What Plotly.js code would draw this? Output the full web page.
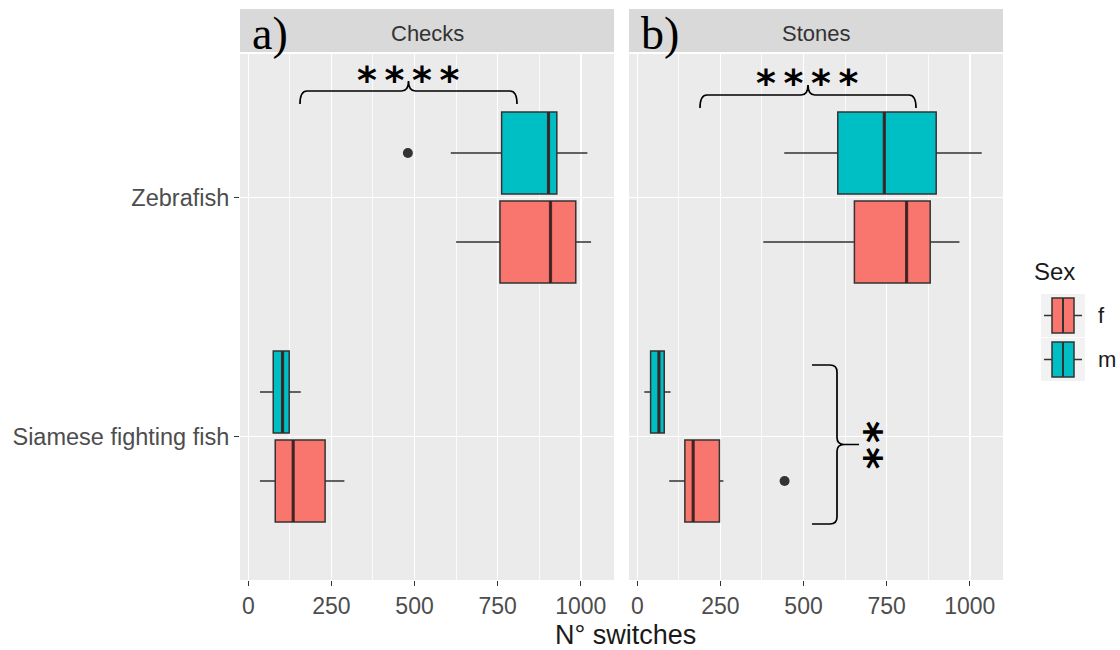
<!DOCTYPE html>
<html>
<head>
<meta charset="utf-8">
<script src="https://cdn.plot.ly/plotly-3.0.1.min.js"></script>
<style>html,body{margin:0;padding:0;background:#fff;}#chart{width:1120px;height:650px;}</style>
</head>
<body>
<div id="chart"></div>
<script>
// ---- data ----
const categories = ['Zebrafish', 'Siamese fighting fish'];
const panels = ['Checks', 'Stones'];
const panelTags = ['a)', 'b)'];
const sexes = ['f', 'm'];
const xTicks = [0, 250, 500, 750, 1000];

// Checks
const checksF_q1 = [757, 81];
const checksF_median = [909, 135];
const checksF_q3 = [985, 231];
const checksF_lower = [625, 35];
const checksF_upper = [1031, 289];
const checksF_outliers = [[], []];

const checksM_q1 = [762, 75];
const checksM_median = [903, 103];
const checksM_q3 = [928, 123];
const checksM_lower = [609, 35];
const checksM_upper = [1020, 158];
const checksM_outliers = [[480], []];

// Stones
const stonesF_q1 = [653, 143];
const stonesF_median = [810, 168];
const stonesF_q3 = [881, 247];
const stonesF_lower = [379, 96];
const stonesF_upper = [969, 259];
const stonesF_outliers = [[], [443]];

const stonesM_q1 = [603, 40];
const stonesM_median = [743, 65];
const stonesM_q3 = [899, 81];
const stonesM_lower = [442, 21];
const stonesM_upper = [1036, 100];
const stonesM_outliers = [[], []];

const significance = ['****', '****', '**'];

// ---- styling ----
const W = 1120, H = 650;
const colors = {f: '#F8766D', m: '#00BFC4'};
const px = v => v / W;
const py = v => 1 - v / H;

const series = [
  {panel: 0, sex: 'f', q1: checksF_q1, med: checksF_median, q3: checksF_q3, lo: checksF_lower, hi: checksF_upper, out: checksF_outliers},
  {panel: 0, sex: 'm', q1: checksM_q1, med: checksM_median, q3: checksM_q3, lo: checksM_lower, hi: checksM_upper, out: checksM_outliers},
  {panel: 1, sex: 'f', q1: stonesF_q1, med: stonesF_median, q3: stonesF_q3, lo: stonesF_lower, hi: stonesF_upper, out: stonesF_outliers},
  {panel: 1, sex: 'm', q1: stonesM_q1, med: stonesM_median, q3: stonesM_q3, lo: stonesM_lower, hi: stonesM_upper, out: stonesM_outliers}
];

const traces = [];
series.forEach(s => {
  const xa = s.panel === 0 ? 'x' : 'x2';
  const ya = s.panel === 0 ? 'y' : 'y2';
  categories.forEach((cat, i) => {
    const t = {
      type: 'box', orientation: 'h', name: s.sex,
      xaxis: xa, yaxis: ya, offsetgroup: s.sex,
      y: [cat],
      q1: [s.q1[i]], median: [s.med[i]], q3: [s.q3[i]], lowerfence: [s.lo[i]], upperfence: [s.hi[i]],
      boxpoints: false,
      fillcolor: colors[s.sex],
      line: {color: '#333333', width: 1.5},
      whiskerwidth: 0,
      marker: {color: '#333333', size: 10, line: {width: 0}},
      showlegend: false, hoverinfo: 'skip'
    };
    if (s.out[i].length) {
      t.x = [s.out[i]];
      t.boxpoints = 'outliers';
      t.jitter = 0;
      t.pointpos = 0;
    }
    traces.push(t);
    // thicker median line (ggplot "fatten")
    traces.push({
      type: 'box', orientation: 'h', name: s.sex + ' median',
      xaxis: xa, yaxis: ya, offsetgroup: s.sex,
      y: [cat],
      q1: [s.med[i]], median: [s.med[i]], q3: [s.med[i]], lowerfence: [s.med[i]], upperfence: [s.med[i]],
      boxpoints: false,
      fillcolor: 'rgba(0,0,0,0)',
      line: {color: 'rgba(60,30,30,0.85)', width: 3.2},
      whiskerwidth: 0,
      showlegend: false, hoverinfo: 'skip'
    });
  });
});

const tickFont = {family: 'Liberation Sans, Arial, sans-serif', size: 23, color: '#4D4D4D'};
const xCommon = {
  type: 'linear',
  range: [-25, 1100], tickvals: xTicks, ticktext: xTicks.map(String),
  ticks: 'outside', ticklen: 5, tickwidth: 1.2, tickcolor: '#333333',
  showgrid: true, gridcolor: '#FFFFFF', gridwidth: 1.6,
  minor: {tickvals: [125, 375, 625, 875], showgrid: true, gridcolor: '#FFFFFF', gridwidth: 0.8},
  zeroline: false, showline: false, tickfont: tickFont, fixedrange: true
};

const layout = {
  width: W, height: H,
  margin: {l: 0, r: 0, t: 0, b: 0},
  paper_bgcolor: '#FFFFFF', plot_bgcolor: '#EBEBEB',
  boxmode: 'group', boxgap: 0.255, boxgroupgap: 0.08,
  showlegend: false,
  xaxis: Object.assign({}, xCommon, {domain: [px(240), px(614)], anchor: 'y'}),
  xaxis2: Object.assign({}, xCommon, {domain: [px(629), px(1003)], anchor: 'y2'}),
  yaxis: {
    domain: [py(580), py(54)], anchor: 'x', type: 'category',
    categoryorder: 'array', categoryarray: categories.slice().reverse(),
    range: [-0.6, 1.6], ticks: 'outside', ticklen: 5, tickwidth: 1.2, tickcolor: '#333333',
    showgrid: true, gridcolor: '#FFFFFF', gridwidth: 1.6, zeroline: false, showline: false,
    tickfont: Object.assign({}, tickFont, {size: 23.5}), fixedrange: true
  },
  yaxis2: {
    domain: [py(580), py(54)], anchor: 'x2', type: 'category',
    categoryorder: 'array', categoryarray: categories.slice().reverse(),
    range: [-0.6, 1.6], ticks: '', showticklabels: false,
    showgrid: true, gridcolor: '#FFFFFF', gridwidth: 1.6, zeroline: false, showline: false,
    fixedrange: true
  },
  shapes: [],
  annotations: []
};

// facet strips
const stripX = [[240, 614], [629, 1003]];
panels.forEach((p, i) => {
  layout.shapes.push({type: 'rect', xref: 'paper', yref: 'paper', x0: px(stripX[i][0]), x1: px(stripX[i][1]),
    y0: py(52), y1: py(9), fillcolor: '#D9D9D9', line: {width: 0}, layer: 'below'});
  layout.annotations.push({xref: 'paper', yref: 'paper', x: px((stripX[i][0] + stripX[i][1]) / 2), y: py(33),
    text: p, showarrow: false, xanchor: 'center', yanchor: 'middle',
    font: {family: 'Liberation Sans, Arial, sans-serif', size: 22, color: '#333333'}});
  layout.annotations.push({xref: 'paper', yref: 'paper', x: px(stripX[i][0] + 10), y: py(33),
    text: panelTags[i], showarrow: false, xanchor: 'left', yanchor: 'middle',
    font: {family: 'Liberation Serif, Times New Roman, serif', size: 46, color: '#000000'}});
});

// axis title (explicit box height so it sits between the tick labels and the page edge)
layout.annotations.push({xref: 'paper', yref: 'paper', x: px(625), y: py(634), text: 'N° switches',
  showarrow: false, xanchor: 'center', yanchor: 'middle', height: 27, valign: 'middle',
  font: {family: 'Liberation Sans, Arial, sans-serif', size: 27, color: '#1A1A1A'}});

// significance braces
function hBrace(x0, x1, yLine, yEnd, yPeak) {
  const m = (x0 + x1) / 2, r = 7;
  const P = (x, y) => px(x) + ',' + py(y);
  return 'M' + P(x0, yEnd) + ' Q' + P(x0, yLine) + ' ' + P(x0 + r, yLine) +
    ' L' + P(m - r, yLine) + ' Q' + P(m, yLine) + ' ' + P(m, yPeak) +
    ' Q' + P(m, yLine) + ' ' + P(m + r, yLine) +
    ' L' + P(x1 - r, yLine) + ' Q' + P(x1, yLine) + ' ' + P(x1, yEnd);
}
function vBrace(xEnd, xLine, xTip, y0, y1) {
  const m = (y0 + y1) / 2, r = 7;
  const P = (x, y) => px(x) + ',' + py(y);
  return 'M' + P(xEnd, y0) + ' L' + P(xLine - r, y0) + ' Q' + P(xLine, y0) + ' ' + P(xLine, y0 + r) +
    ' L' + P(xLine, m - r) + ' Q' + P(xLine, m) + ' ' + P(xLine + r, m) + ' L' + P(xTip, m) +
    ' M' + P(xLine + r, m) + ' Q' + P(xLine, m) + ' ' + P(xLine, m + r) +
    ' L' + P(xLine, y1 - r) + ' Q' + P(xLine, y1) + ' ' + P(xLine - r, y1) + ' L' + P(xEnd, y1);
}
const braceLine = {color: '#000000', width: 1.7};
layout.shapes.push({type: 'path', xref: 'paper', yref: 'paper', path: hBrace(300, 517, 91, 104, 81), line: braceLine});
layout.shapes.push({type: 'path', xref: 'paper', yref: 'paper', path: hBrace(700, 916, 95, 108, 85), line: braceLine});
layout.shapes.push({type: 'path', xref: 'paper', yref: 'paper', path: vBrace(812, 837, 859, 365, 524), line: braceLine});

const starFont = {family: 'DejaVu Sans, sans-serif', size: 38, color: '#000000'};
const spaced = (s, sep) => s.split('').join(sep);
layout.annotations.push({xref: 'paper', yref: 'paper', x: px(408), y: py(80), text: '<b>' + spaced(significance[0], '\u2009') + '</b>',
  showarrow: false, xanchor: 'center', yanchor: 'middle', font: starFont});
layout.annotations.push({xref: 'paper', yref: 'paper', x: px(807), y: py(83), text: '<b>' + spaced(significance[1], '\u2009') + '</b>',
  showarrow: false, xanchor: 'center', yanchor: 'middle', font: starFont});
// vertical stack of stars: one rotated text
layout.annotations.push({xref: 'paper', yref: 'paper', x: px(866), y: py(445), text: '<b>' + spaced(significance[2], '\u200A') + '</b>',
  textangle: 90, showarrow: false, xanchor: 'center', yanchor: 'middle',
  font: {family: 'DejaVu Sans, sans-serif', size: 42, color: '#000000'}});

// legend (ggplot style)
layout.annotations.push({xref: 'paper', yref: 'paper', x: px(1032), y: py(271), text: 'Sex', showarrow: false,
  xanchor: 'left', yanchor: 'middle', font: {family: 'Liberation Sans, Arial, sans-serif', size: 24, color: '#1A1A1A'}});
sexes.forEach((s, k) => {
  const top = 294 + k * 44, bot = top + 43, cy = (top + bot) / 2;
  layout.shapes.push({type: 'rect', xref: 'paper', yref: 'paper', x0: px(1041), x1: px(1085), y0: py(bot), y1: py(top),
    fillcolor: '#F2F2F2', line: {width: 0}});
  layout.shapes.push({type: 'line', xref: 'paper', yref: 'paper', x0: px(1044), x1: px(1082), y0: py(cy), y1: py(cy),
    line: {color: '#333333', width: 1.5}});
  layout.shapes.push({type: 'rect', xref: 'paper', yref: 'paper', x0: px(1052), x1: px(1074), y0: py(bot - 4), y1: py(top + 4),
    fillcolor: colors[s], line: {color: '#333333', width: 1.5}});
  layout.shapes.push({type: 'line', xref: 'paper', yref: 'paper', x0: px(1063), x1: px(1063), y0: py(bot - 4), y1: py(top + 4),
    line: {color: '#333333', width: 2}});
  layout.annotations.push({xref: 'paper', yref: 'paper', x: px(1096), y: py(cy), text: s, showarrow: false,
    xanchor: 'left', yanchor: 'middle', font: {family: 'Liberation Sans, Arial, sans-serif', size: 22, color: '#1A1A1A'}});
});

Plotly.newPlot('chart', traces, layout, {staticPlot: true, displayModeBar: false});
</script>
</body>
</html>
